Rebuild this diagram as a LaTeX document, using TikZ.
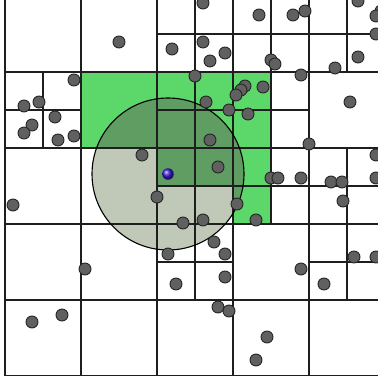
\documentclass[tikz,border=0pt]{standalone}
\usepackage{tikz}

\definecolor{cellgreen}{RGB}{92,215,106}
\definecolor{overlapgreen}{RGB}{95,157,98}
\definecolor{rangegray}{RGB}{192,200,184}
\definecolor{ptgray}{RGB}{96,96,96}
\definecolor{cellline}{RGB}{30,30,30}
\definecolor{queryblue}{RGB}{55,25,215}

\begin{document}
\begin{tikzpicture}[x=1pt, y=-1pt,
    celledge/.style={cellline, line width=1.1pt},
    pt/.style={circle, draw=black!85, line width=0.9pt, fill=ptgray,
               inner sep=0pt, minimum size=12pt},
    querypt/.style={circle, shade, ball color=queryblue,
                    inner sep=0pt, minimum size=11.5pt}]
\clip (0,0) rectangle (378,381);

\fill[cellgreen] (81,72) -- (271,72) -- (271,224) -- (233,224) -- (233,186)
    -- (157,186) -- (157,148) -- (81,148) -- cycle;
\fill[rangegray] (168,174) circle[radius=76];
\begin{scope}
\clip (168,174) circle[radius=76];
\fill[overlapgreen] (81,72) -- (271,72) -- (271,224) -- (233,224) -- (233,186)
    -- (157,186) -- (157,148) -- (81,148) -- cycle;
\end{scope}

\foreach \v in {5,81,157,233,309,385}
    \draw[celledge] (\v,-4) -- (\v,375.5);
\foreach \h in {-4,72,148,224,300,375.5}
    \draw[celledge] (5,\h) -- (385,\h);
\foreach \cx/\cy in {195/34,271/34,347/34,43/110,195/110,271/110,
                     195/186,271/186,347/186,195/262,347/262}
    \draw[celledge] (\cx-38,\cy) -- (\cx+38,\cy) (\cx,\cy-38) -- (\cx,\cy+38);

\draw[line width=1.1pt] (168,174) circle[radius=76];

\foreach \x/\y [count=\i] in {119/42,172/49,203/3,259/15,293/15,305/11,358/1,
    381/11,376/16,376/34,203/42,225/53,210/61,271/60,275/64,358/57,335/68,
    195/76,301/75,74/80,39/102,24/106,55/117,32/125,24/133,58/140,74/136,
    245/86,241/90,236/95,263/87,206/102,229/110,248/114,350/102,210/140,
    309/144,142/155,218/167,376/155,271/178,278/178,301/178,331/182,342/182,
    376/178,157/197,237/204,343/201,13/205,183/223,203/220,256/220,214/242,
    168/254,225/254,225/277,176/284,85/269,301/269,324/284,354/257,376/257,
    62/315,32/322,218/307,229/311,267/337,256/360}
    \node[pt] (p\i) at (\x,\y) {};

\node[querypt] (q) at (168,174) {};
\end{tikzpicture}
\end{document}
